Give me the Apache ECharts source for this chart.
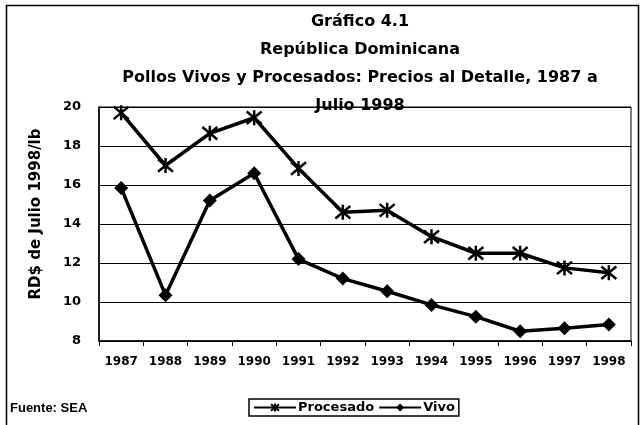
<!DOCTYPE html>
<html>
<head>
<meta charset="utf-8">
<script src="https://cdn.jsdelivr.net/npm/echarts@6/dist/echarts.min.js"></script>
<style>
  html, body { margin: 0; padding: 0; background: #fff; }
  #grafico { width: 644px; height: 425px; }
</style>
</head>
<body>
<div id="grafico"></div>
<script>
var anios = ['1987', '1988', '1989', '1990', '1991', '1992', '1993', '1994', '1995', '1996', '1997', '1998'];
var procesado = [19.7, 17.0, 18.65, 19.45, 16.85, 14.6, 14.7, 13.35, 12.5, 12.5, 11.75, 11.5];
var vivo = [15.85, 10.35, 15.2, 16.6, 12.2, 11.2, 10.55, 9.85, 9.25, 8.5, 8.65, 8.85];
var ejeY = { min: 8, max: 20, intervalo: 2 };

// asterisco: X mas una raya vertical
var asterisco = 'path://M0,0L10,10M10,0L0,10M5,-1L5,11';
var fuente = 'DejaVu Sans';

var dom = document.getElementById('grafico');
var myChart = echarts.init(dom, null, { renderer: 'canvas' });

var option = {
    backgroundColor: '#fff',
    animation: false,
    title: {
        text: 'Gráfico 4.1\nRepública Dominicana\nPollos Vivos y Procesados: Precios al Detalle, 1987 a\nJulio 1998',
        left: 355,
        textAlign: 'center',
        top: 3,
        textStyle: {
            fontFamily: fuente,
            fontWeight: 'bold',
            fontSize: 16,
            lineHeight: 28,
            color: '#000'
        }
    },
    grid: {
        left: 99, right: 13, top: 107, bottom: 84,
        show: true,
        borderColor: '#000',
        borderWidth: 1
    },
    legend: {
        data: ['Procesado', 'Vivo'],
        left: 249,
        top: 399,
        itemWidth: 42,
        itemHeight: 10,
        itemGap: 4,
        padding: [2, 4, 2, 4],
        borderColor: '#000',
        borderWidth: 1.5,
        textStyle: { fontFamily: fuente, fontWeight: 'bold', fontSize: 13, color: '#000', padding: [0, 0, 0, -3] }
    },
    xAxis: {
        type: 'category',
        data: anios,
        boundaryGap: true,
        axisLine: { lineStyle: { color: '#000', width: 1.5 } },
        axisTick: { show: true, length: 5, interval: 0, lineStyle: { color: '#000' } },
        axisLabel: { interval: 0, fontFamily: fuente, fontWeight: 'bold', fontSize: 12, color: '#000', margin: 15 }
    },
    yAxis: {
        type: 'value',
        min: ejeY.min,
        max: ejeY.max,
        interval: ejeY.intervalo,
        axisLine: { show: true, lineStyle: { color: '#000', width: 1.5 } },
        axisTick: { show: false },
        axisLabel: { fontFamily: fuente, fontWeight: 'bold', fontSize: 13, color: '#000', margin: 18 },
        splitLine: { show: true, lineStyle: { color: '#000', width: 1 } }
    },
    series: [
        {
            name: 'Procesado',
            type: 'line',
            data: procesado,
            symbol: asterisco,
            symbolSize: 15,
            showAllSymbol: true,
            lineStyle: { color: '#000', width: 3.5 },
            itemStyle: { color: 'none', borderColor: '#000', borderWidth: 2.5 }
        },
        {
            name: 'Vivo',
            type: 'line',
            data: vivo,
            symbol: 'diamond',
            symbolSize: 14,
            showAllSymbol: true,
            lineStyle: { color: '#000', width: 3.5 },
            itemStyle: { color: '#000' }
        }
    ],
    graphic: [
        {   // marco exterior
            type: 'rect',
            shape: { x: 6.5, y: 5.5, width: 632, height: 440 },
            style: { fill: 'none', stroke: '#000', lineWidth: 1.5 },
            silent: true
        },
        {   // titulo del eje Y
            type: 'text',
            x: 36,
            y: 214,
            rotation: Math.PI / 2,
            style: {
                text: 'RD$ de Julio 1998/lb',
                font: 'bold 15px "DejaVu Sans"',
                fill: '#000',
                align: 'center',
                verticalAlign: 'middle'
            }
        },
        {
            type: 'text',
            left: 10,
            top: 402,
            style: { text: 'Fuente: SEA', font: 'bold 13px "Liberation Sans"', fill: '#000' }
        }
    ]
};

if (option && typeof option === 'object') {
    myChart.setOption(option, true);
}
</script>
</body>
</html>
